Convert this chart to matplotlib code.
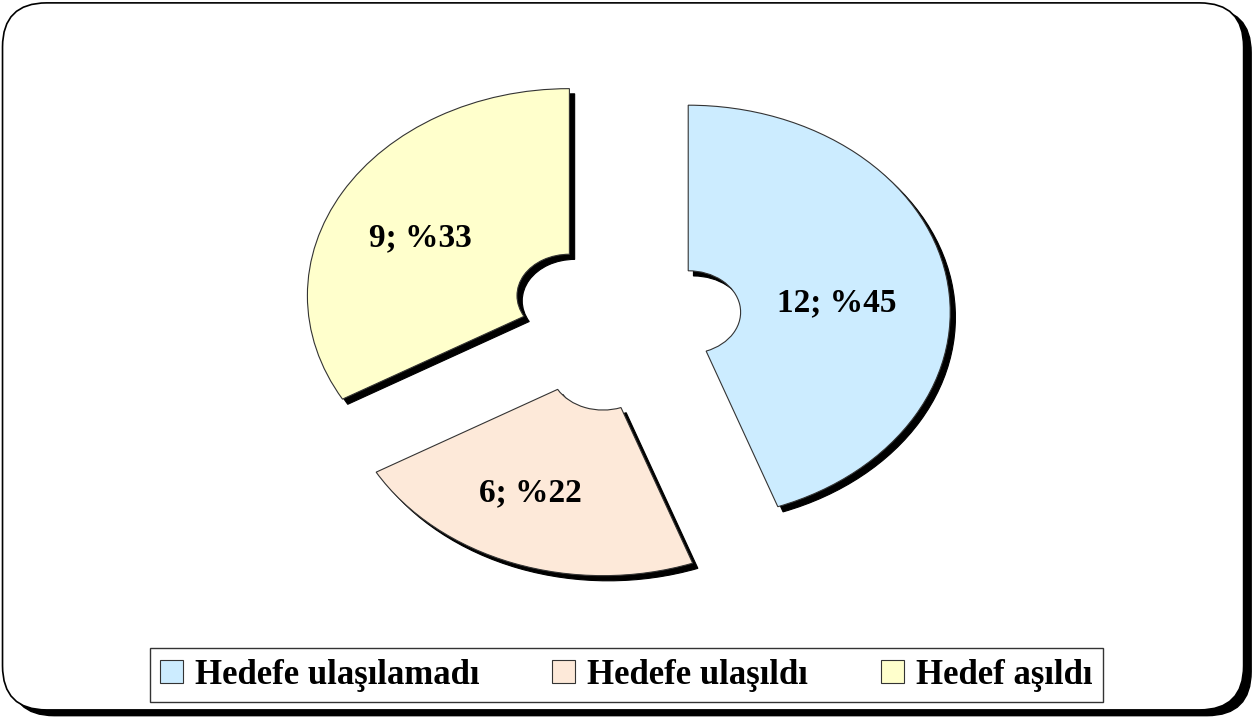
import matplotlib.pyplot as plt
from matplotlib.patches import FancyBboxPatch, Patch

labels = ["Hedefe ulaşılamadı", "Hedefe ulaşıldı", "Hedef aşıldı"]
counts = [12, 6, 9]
pct_text = ["12; %45", "6; %22", "9; %33"]
colors = ["#CCECFF", "#FDE9D9", "#FFFFCC"]

plt.rcParams['font.family'] = ['Liberation Serif', 'DejaVu Serif']

fig = plt.figure(figsize=(12.6, 7.2), dpi=100)

# rounded frame with shadow
shadow_box = FancyBboxPatch((0.008, 0.006), 0.985, 0.982,
                            boxstyle="round,pad=0,rounding_size=0.035",
                            transform=fig.transFigure, facecolor="black",
                            edgecolor="black", lw=1, zorder=0, mutation_aspect=1.75)
frame_box = FancyBboxPatch((0.002, 0.014), 0.985, 0.982,
                           boxstyle="round,pad=0,rounding_size=0.035",
                           transform=fig.transFigure, facecolor="white",
                           edgecolor="black", lw=1.2, zorder=1, mutation_aspect=1.75)
fig.patches.append(shadow_box)
fig.patches.append(frame_box)

ax = fig.add_axes([0, 0, 1, 1])
ax.set_zorder(2)
ax.patch.set_visible(False)

explode = [0.245] * 3
wprops = dict(width=0.8, edgecolor="#333333", linewidth=0.8)

# black drop shadow of wedges
ax.pie(counts, explode=explode, startangle=90, counterclock=False,
       colors=["black"] * 3, center=(0.02, -0.025),
       wedgeprops=dict(width=0.8, edgecolor="black", linewidth=0.8))
wedges, _ = ax.pie(counts, explode=explode, startangle=90, counterclock=False,
                   colors=colors, wedgeprops=wprops)

# pixel-based scale: x radius 262 px, y radius 207 px, center (625, 321)
rx, ry, cx, cy = 262.0, 207.0, 625.0, 321.0
ax.set_aspect('auto')
ax.set_xlim(-cx / rx, (1260 - cx) / rx)
ax.set_ylim(-(720 - cy) / ry, cy / ry)
ax.axis('off')

label_pos = [(0.81, 0.09), (-0.36, -0.83), (-0.78, 0.40)]
for (x, y), t in zip(label_pos, pct_text):
    ax.text(x, y, t, ha="center", va="center", fontsize=24,
            fontweight="bold", color="black")

handles = [Patch(facecolor=c, edgecolor="#333333", linewidth=0.8) for c in colors]
leg = fig.legend(handles, labels, loc="center", bbox_to_anchor=(0.497, 0.062),
                 ncol=3, frameon=True, fancybox=False, edgecolor="black",
                 prop=dict(family=['Liberation Serif'], weight="bold", size=25),
                 handlelength=0.65, handleheight=0.65, handletextpad=0.35,
                 columnspacing=2.1, borderpad=0.3, borderaxespad=0)
leg.get_frame().set_linewidth(1.0)

fig.savefig("out.png", dpi=100)
